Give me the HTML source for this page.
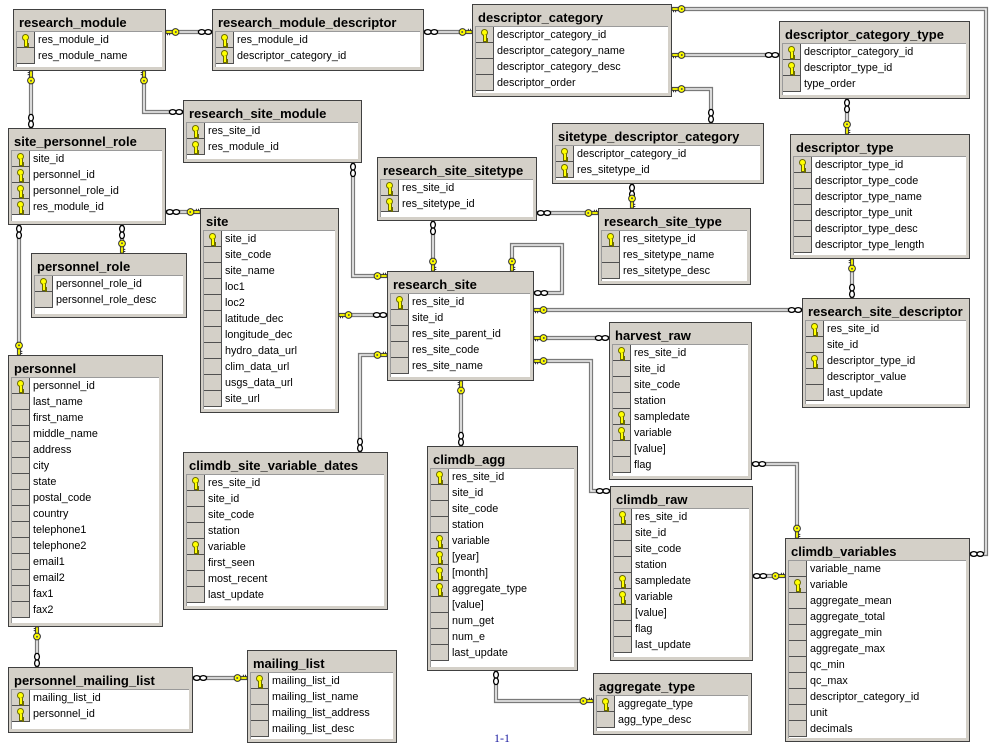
<!DOCTYPE html>
<html><head><meta charset="utf-8"><style>
body{margin:0;width:999px;height:751px;background:#fff;position:relative;overflow:hidden;font-family:"Liberation Sans",Arial,sans-serif;color:#000}
.t{position:absolute;background:#d4d0c8;border:1px solid #404040;box-sizing:border-box}
.t>b{position:absolute;left:5px;top:5px;font-size:13px;line-height:15px;white-space:nowrap}
.p{position:absolute;left:2px;right:3px;top:21px;bottom:3px;background:#fff;border-top:1px solid #9a9a9a;border-left:1px solid #9a9a9a;box-sizing:border-box;overflow:hidden}
.r{height:16px;position:relative;font-size:10.8px;line-height:16px;padding-left:21px;white-space:nowrap}
.r::before{content:"";position:absolute;left:0;top:0;width:18px;height:16px;background:#d4d0c8;border-right:1px solid #505050;border-bottom:1px solid #505050;box-sizing:border-box}
.r i{position:absolute;left:5px;top:2px;width:7px;height:7px;border-radius:50%;background:#ffff00;border:1px solid #6b6b00;box-sizing:border-box}
.r i::after{content:"";position:absolute;left:1px;top:5px;width:2px;height:6px;background:#ffff00;border:1px solid #6b6b00;border-top:none;box-shadow:2px 2px 0 -1px #6b6b00}
svg{position:absolute;left:0;top:0}
.n{position:absolute;left:494px;top:731px;font:12px "Liberation Serif",serif;color:#1a1aa0}
</style></head><body>

<div class="t" style="left:13px;top:9px;width:153px;height:62px"><b>research_module</b><div class="p"><div class="r"><i></i>res_module_id</div><div class="r">res_module_name</div></div></div>

<div class="t" style="left:212px;top:9px;width:212px;height:62px"><b>research_module_descriptor</b><div class="p"><div class="r"><i></i>res_module_id</div><div class="r"><i></i>descriptor_category_id</div></div></div>

<div class="t" style="left:472px;top:4px;width:200px;height:93px"><b>descriptor_category</b><div class="p"><div class="r"><i></i>descriptor_category_id</div><div class="r">descriptor_category_name</div><div class="r">descriptor_category_desc</div><div class="r">descriptor_order</div></div></div>

<div class="t" style="left:779px;top:21px;width:191px;height:78px"><b>descriptor_category_type</b><div class="p"><div class="r"><i></i>descriptor_category_id</div><div class="r"><i></i>descriptor_type_id</div><div class="r">type_order</div></div></div>

<div class="t" style="left:790px;top:134px;width:180px;height:125px"><b>descriptor_type</b><div class="p"><div class="r"><i></i>descriptor_type_id</div><div class="r">descriptor_type_code</div><div class="r">descriptor_type_name</div><div class="r">descriptor_type_unit</div><div class="r">descriptor_type_desc</div><div class="r">descriptor_type_length</div></div></div>

<div class="t" style="left:552px;top:123px;width:212px;height:61px"><b>sitetype_descriptor_category</b><div class="p"><div class="r"><i></i>descriptor_category_id</div><div class="r"><i></i>res_sitetype_id</div></div></div>

<div class="t" style="left:183px;top:100px;width:179px;height:63px"><b>research_site_module</b><div class="p"><div class="r"><i></i>res_site_id</div><div class="r"><i></i>res_module_id</div></div></div>

<div class="t" style="left:8px;top:128px;width:158px;height:97px"><b>site_personnel_role</b><div class="p"><div class="r"><i></i>site_id</div><div class="r"><i></i>personnel_id</div><div class="r"><i></i>personnel_role_id</div><div class="r"><i></i>res_module_id</div></div></div>

<div class="t" style="left:200px;top:208px;width:139px;height:205px"><b>site</b><div class="p"><div class="r"><i></i>site_id</div><div class="r">site_code</div><div class="r">site_name</div><div class="r">loc1</div><div class="r">loc2</div><div class="r">latitude_dec</div><div class="r">longitude_dec</div><div class="r">hydro_data_url</div><div class="r">clim_data_url</div><div class="r">usgs_data_url</div><div class="r">site_url</div></div></div>

<div class="t" style="left:31px;top:253px;width:156px;height:65px"><b>personnel_role</b><div class="p"><div class="r"><i></i>personnel_role_id</div><div class="r">personnel_role_desc</div></div></div>

<div class="t" style="left:8px;top:355px;width:155px;height:272px"><b>personnel</b><div class="p"><div class="r"><i></i>personnel_id</div><div class="r">last_name</div><div class="r">first_name</div><div class="r">middle_name</div><div class="r">address</div><div class="r">city</div><div class="r">state</div><div class="r">postal_code</div><div class="r">country</div><div class="r">telephone1</div><div class="r">telephone2</div><div class="r">email1</div><div class="r">email2</div><div class="r">fax1</div><div class="r">fax2</div></div></div>

<div class="t" style="left:377px;top:157px;width:160px;height:64px"><b>research_site_sitetype</b><div class="p"><div class="r"><i></i>res_site_id</div><div class="r"><i></i>res_sitetype_id</div></div></div>

<div class="t" style="left:598px;top:208px;width:153px;height:77px"><b>research_site_type</b><div class="p"><div class="r"><i></i>res_sitetype_id</div><div class="r">res_sitetype_name</div><div class="r">res_sitetype_desc</div></div></div>

<div class="t" style="left:387px;top:271px;width:147px;height:110px"><b>research_site</b><div class="p"><div class="r"><i></i>res_site_id</div><div class="r">site_id</div><div class="r">res_site_parent_id</div><div class="r">res_site_code</div><div class="r">res_site_name</div></div></div>

<div class="t" style="left:802px;top:298px;width:168px;height:110px"><b>research_site_descriptor</b><div class="p"><div class="r"><i></i>res_site_id</div><div class="r">site_id</div><div class="r"><i></i>descriptor_type_id</div><div class="r">descriptor_value</div><div class="r">last_update</div></div></div>

<div class="t" style="left:609px;top:322px;width:143px;height:158px"><b>harvest_raw</b><div class="p"><div class="r"><i></i>res_site_id</div><div class="r">site_id</div><div class="r">site_code</div><div class="r">station</div><div class="r"><i></i>sampledate</div><div class="r"><i></i>variable</div><div class="r">[value]</div><div class="r">flag</div></div></div>

<div class="t" style="left:610px;top:486px;width:143px;height:175px"><b>climdb_raw</b><div class="p"><div class="r"><i></i>res_site_id</div><div class="r">site_id</div><div class="r">site_code</div><div class="r">station</div><div class="r"><i></i>sampledate</div><div class="r"><i></i>variable</div><div class="r">[value]</div><div class="r">flag</div><div class="r">last_update</div></div></div>

<div class="t" style="left:785px;top:538px;width:185px;height:204px"><b>climdb_variables</b><div class="p"><div class="r">variable_name</div><div class="r"><i></i>variable</div><div class="r">aggregate_mean</div><div class="r">aggregate_total</div><div class="r">aggregate_min</div><div class="r">aggregate_max</div><div class="r">qc_min</div><div class="r">qc_max</div><div class="r">descriptor_category_id</div><div class="r">unit</div><div class="r">decimals</div></div></div>

<div class="t" style="left:427px;top:446px;width:151px;height:225px"><b>climdb_agg</b><div class="p"><div class="r"><i></i>res_site_id</div><div class="r">site_id</div><div class="r">site_code</div><div class="r">station</div><div class="r"><i></i>variable</div><div class="r"><i></i>[year]</div><div class="r"><i></i>[month]</div><div class="r"><i></i>aggregate_type</div><div class="r">[value]</div><div class="r">num_get</div><div class="r">num_e</div><div class="r">last_update</div></div></div>

<div class="t" style="left:593px;top:673px;width:159px;height:62px"><b>aggregate_type</b><div class="p"><div class="r"><i></i>aggregate_type</div><div class="r">agg_type_desc</div></div></div>

<div class="t" style="left:183px;top:452px;width:205px;height:158px"><b>climdb_site_variable_dates</b><div class="p"><div class="r"><i></i>res_site_id</div><div class="r">site_id</div><div class="r">site_code</div><div class="r">station</div><div class="r"><i></i>variable</div><div class="r">first_seen</div><div class="r">most_recent</div><div class="r">last_update</div></div></div>

<div class="t" style="left:8px;top:667px;width:185px;height:66px"><b>personnel_mailing_list</b><div class="p"><div class="r"><i></i>mailing_list_id</div><div class="r"><i></i>personnel_id</div></div></div>

<div class="t" style="left:247px;top:650px;width:150px;height:93px"><b>mailing_list</b><div class="p"><div class="r"><i></i>mailing_list_id</div><div class="r">mailing_list_name</div><div class="r">mailing_list_address</div><div class="r">mailing_list_desc</div></div></div>

<div class="n">1-1</div>

<svg width="999" height="751" viewBox="0 0 999 751">
<defs>
<g id="K"><rect x="0" y="-1.3" width="7" height="2.6" fill="#ffff00" stroke="#333" stroke-width="0.8"/><path d="M1.5 1.3v2M3.6 1.3v2" stroke="#333" stroke-width="1"/><circle cx="9.5" cy="0" r="3.4" fill="#ffff00" stroke="#333" stroke-width="1"/><circle cx="9.8" cy="0" r="1" fill="#555"/></g>
<g id="M"><ellipse cx="3.8" cy="0" rx="3.3" ry="2.4" fill="#fff" stroke="#000" stroke-width="1.3"/><ellipse cx="10.3" cy="0" rx="3.3" ry="2.4" fill="#fff" stroke="#000" stroke-width="1.3"/></g>
</defs>
<g fill="none" stroke="#7a7a7a" stroke-width="4.2">
<polyline points="166,32 212,32"/><polyline points="424,32 472,32"/>
<polyline points="672,9 986,9 986,554 970,554"/><polyline points="672,55 779,55"/>
<polyline points="672,89 711,89 711,123"/><polyline points="847,99 847,134"/>
<polyline points="852,259 852,298"/><polyline points="632,184 632,208"/>
<polyline points="537,213 598,213"/><polyline points="433,221 433,271"/>
<polyline points="534,293 562,293 562,245 512,245 512,271"/>
<polyline points="353,163 353,276 387,276"/><polyline points="339,315 387,315"/>
<polyline points="387,355 360,355 360,452"/><polyline points="534,310 802,310"/>
<polyline points="534,338 609,338"/><polyline points="534,361 591,361 591,491 610,491"/>
<polyline points="461,381 461,446"/><polyline points="752,464 797,464 797,538"/>
<polyline points="753,576 785,576"/><polyline points="496,671 496,701 593,701"/>
<polyline points="31,71 31,128"/><polyline points="144,71 144,112 183,112"/>
<polyline points="166,212 200,212"/><polyline points="122,225 122,253"/>
<polyline points="19,225 19,355"/><polyline points="37,627 37,667"/>
<polyline points="193,678 247,678"/>
</g>
<g fill="none" stroke="#f2f2f2" stroke-width="1.6">
<polyline points="166,32 212,32"/><polyline points="424,32 472,32"/>
<polyline points="672,9 986,9 986,554 970,554"/><polyline points="672,55 779,55"/>
<polyline points="672,89 711,89 711,123"/><polyline points="847,99 847,134"/>
<polyline points="852,259 852,298"/><polyline points="632,184 632,208"/>
<polyline points="537,213 598,213"/><polyline points="433,221 433,271"/>
<polyline points="534,293 562,293 562,245 512,245 512,271"/>
<polyline points="353,163 353,276 387,276"/><polyline points="339,315 387,315"/>
<polyline points="387,355 360,355 360,452"/><polyline points="534,310 802,310"/>
<polyline points="534,338 609,338"/><polyline points="534,361 591,361 591,491 610,491"/>
<polyline points="461,381 461,446"/><polyline points="752,464 797,464 797,538"/>
<polyline points="753,576 785,576"/><polyline points="496,671 496,701 593,701"/>
<polyline points="31,71 31,128"/><polyline points="144,71 144,112 183,112"/>
<polyline points="166,212 200,212"/><polyline points="122,225 122,253"/>
<polyline points="19,225 19,355"/><polyline points="37,627 37,667"/>
<polyline points="193,678 247,678"/>
</g>
<use href="#K" transform="translate(166,32)"/><use href="#M" transform="translate(212,32) rotate(180)"/>
<use href="#M" transform="translate(424,32)"/><use href="#K" transform="translate(472,32) rotate(180)"/>
<use href="#K" transform="translate(672,9)"/><use href="#M" transform="translate(970,554)"/>
<use href="#K" transform="translate(672,55)"/><use href="#M" transform="translate(779,55) rotate(180)"/>
<use href="#K" transform="translate(672,89)"/><use href="#M" transform="translate(711,123) rotate(-90)"/>
<use href="#M" transform="translate(847,99) rotate(90)"/><use href="#K" transform="translate(847,134) rotate(-90)"/>
<use href="#K" transform="translate(852,259) rotate(90)"/><use href="#M" transform="translate(852,298) rotate(-90)"/>
<use href="#M" transform="translate(632,184) rotate(90)"/><use href="#K" transform="translate(632,208) rotate(-90)"/>
<use href="#M" transform="translate(537,213)"/><use href="#K" transform="translate(598,213) rotate(180)"/>
<use href="#M" transform="translate(433,221) rotate(90)"/><use href="#K" transform="translate(433,271) rotate(-90)"/>
<use href="#M" transform="translate(534,293)"/><use href="#K" transform="translate(512,271) rotate(-90)"/>
<use href="#M" transform="translate(353,163) rotate(90)"/><use href="#K" transform="translate(387,276) rotate(180)"/>
<use href="#K" transform="translate(339,315)"/><use href="#M" transform="translate(387,315) rotate(180)"/>
<use href="#K" transform="translate(387,355) rotate(180)"/><use href="#M" transform="translate(360,452) rotate(-90)"/>
<use href="#K" transform="translate(534,310)"/><use href="#M" transform="translate(802,310) rotate(180)"/>
<use href="#K" transform="translate(534,338)"/><use href="#M" transform="translate(609,338) rotate(180)"/>
<use href="#K" transform="translate(534,361)"/><use href="#M" transform="translate(610,491) rotate(180)"/>
<use href="#K" transform="translate(461,381) rotate(90)"/><use href="#M" transform="translate(461,446) rotate(-90)"/>
<use href="#M" transform="translate(752,464)"/><use href="#K" transform="translate(797,538) rotate(-90)"/>
<use href="#M" transform="translate(753,576)"/><use href="#K" transform="translate(785,576) rotate(180)"/>
<use href="#M" transform="translate(496,671) rotate(90)"/><use href="#K" transform="translate(593,701) rotate(180)"/>
<use href="#K" transform="translate(31,71) rotate(90)"/><use href="#M" transform="translate(31,128) rotate(-90)"/>
<use href="#K" transform="translate(144,71) rotate(90)"/><use href="#M" transform="translate(183,112) rotate(180)"/>
<use href="#M" transform="translate(166,212)"/><use href="#K" transform="translate(200,212) rotate(180)"/>
<use href="#M" transform="translate(122,225) rotate(90)"/><use href="#K" transform="translate(122,253) rotate(-90)"/>
<use href="#M" transform="translate(19,225) rotate(90)"/><use href="#K" transform="translate(19,355) rotate(-90)"/>
<use href="#K" transform="translate(37,627) rotate(90)"/><use href="#M" transform="translate(37,667) rotate(-90)"/>
<use href="#M" transform="translate(193,678)"/><use href="#K" transform="translate(247,678) rotate(180)"/>
</svg>
</body></html>
